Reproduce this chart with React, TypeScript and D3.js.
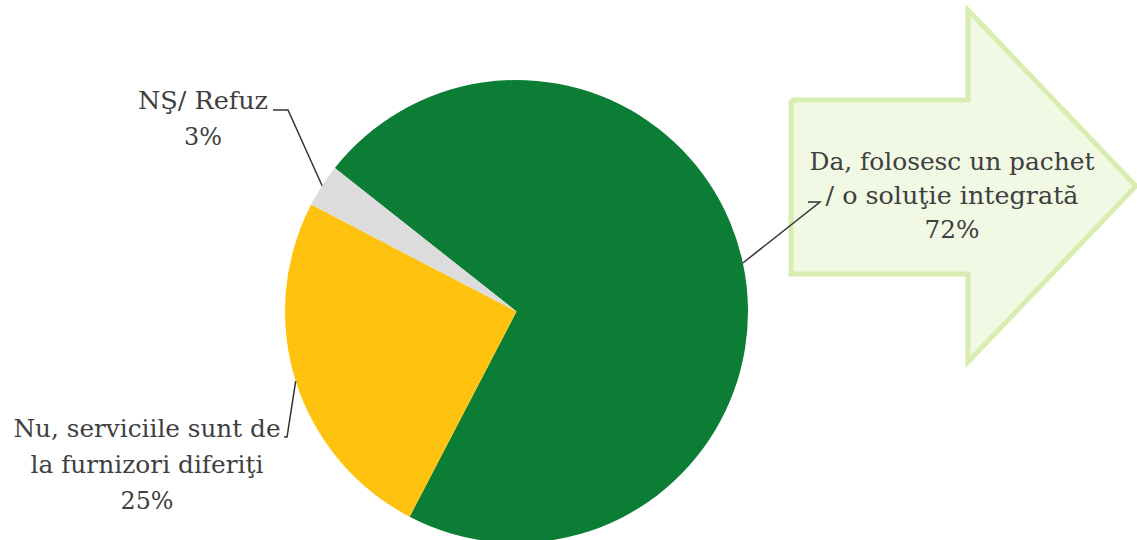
import React from "react";
import * as d3 from "d3";

const categories = ["Da, folosesc un pachet / o soluţie integrată", "Nu, serviciile sunt de la furnizori diferiţi", "NŞ/ Refuz"];
const values = [72, 25, 3];
const labelLines = [
  ["Da, folosesc un pachet", "/ o soluţie integrată", "72%"],
  ["Nu, serviciile sunt de", "la furnizori diferiţi", "25%"],
  ["NŞ/ Refuz", "3%"],
];
const lineWidths = [
  [285, 253, 55],
  [267, 233, 53],
  [130, 38],
];
const colors = ["#0b7d34", "#ffc20e", "#dcdcdc"];

const W = 1137;
const H = 540;
const cx = 516.5;
const cy = 311.5;
const R = 231.5;
const startDeg = 308.3;

export default function App() {
  const pie = d3
    .pie<number>()
    .sort(null)
    .value((d) => d)
    .startAngle((startDeg * Math.PI) / 180)
    .endAngle((startDeg * Math.PI) / 180 + 2 * Math.PI);
  const arcs = pie(values);
  const arc = d3.arc<d3.PieArcDatum<number>>().innerRadius(0).outerRadius(R);
  const edge = (a: d3.PieArcDatum<number>) => {
    const m = (a.startAngle + a.endAngle) / 2;
    return [cx + Math.sin(m) * R, cy - Math.cos(m) * R];
  };

  const labelLayout = [
    { x: 952, y: 170, dy: 34, elbow: [[820, 202], [808, 202]] },
    { x: 147, y: 437, dy: 36, elbow: [[287, 437], [284, 437]] },
    { x: 203, y: 109, dy: 36, elbow: [[288, 110], [273, 110]] },
  ];

  const arrowPts: [number, number][] = [
    [791, 100],
    [968, 100],
    [968, 10],
    [1136, 186],
    [968, 362],
    [968, 274],
    [791, 274],
  ];
  const line = d3.line();

  return (
    <svg
      width={W}
      height={H}
      style={{ position: "absolute", left: 0, top: 0, background: "#fff" }}
    >
      <path
        d={line(arrowPts.concat([arrowPts[0]])) || ""}
        fill="#f1f8e4"
        stroke="#d8edb0"
        strokeWidth={5}
        strokeLinejoin="miter"
      />
      <g>
        {arcs.map((a, i) => (
          <path key={i} d={arc(a) || ""} transform={`translate(${cx},${cy})`} fill={colors[i]} />
        ))}
      </g>
      <g fill="none" stroke="#333" strokeWidth={1.5}>
        {arcs.map((a, i) => {
          const p = edge(a);
          const pts = [p as [number, number], ...(labelLayout[i].elbow as [number, number][])];
          return <path key={i} d={line(pts) || ""} />;
        })}
      </g>
      <g fill="#3f3f3f" textAnchor="middle" style={{ fontFamily: "'DejaVu Serif', 'Liberation Serif', serif", fontSize: "24px" }}>
        {labelLines.map((ls, i) =>
          ls.map((t, j) => (
            <text
              key={`${i}-${j}`}
              x={labelLayout[i].x}
              y={labelLayout[i].y + j * labelLayout[i].dy}
              textLength={lineWidths[i][j]}
              lengthAdjust="spacingAndGlyphs"
            >
              {t}
            </text>
          ))
        )}
      </g>
    </svg>
  );
}
